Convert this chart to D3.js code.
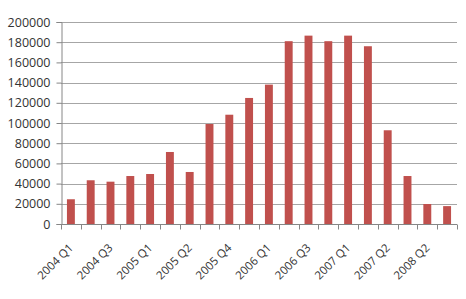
<!DOCTYPE html>
<html>
<head>
<meta charset="utf-8">
<script src="https://cdn.jsdelivr.net/npm/d3@7"></script>
<style>
  body { margin: 0; background: #fff; }
  svg text { font-family: "Open Sans", sans-serif; fill: #333; }
</style>
</head>
<body>
<svg id="chart" width="466" height="299"></svg>
<script>
// quarters, only every other one gets a label on the axis
var categories = ['2004 Q1', '2004 Q2', '2004 Q3', '2004 Q4', '2005 Q1', '2005 Q1b',
  '2005 Q2', '2005 Q3', '2005 Q4', '2005 Q4b', '2006 Q1', '2006 Q2', '2006 Q3', '2006 Q4',
  '2007 Q1', '2007 Q1b', '2007 Q2', '2007 Q3', '2008 Q2', '2008 Q3'];
var values = [24500, 43300, 41900, 47500, 49500, 71300, 51500, 99000, 108200, 124800,
  138000, 181000, 186500, 181000, 186500, 176000, 92800, 47500, 19800, 17700];
var tickLabels = ['2004 Q1', '2004 Q3', '2005 Q1', '2005 Q2', '2005 Q4',
  '2006 Q1', '2006 Q3', '2007 Q1', '2007 Q2', '2008 Q2'];
var yTicks = [0, 20000, 40000, 60000, 80000, 100000, 120000, 140000, 160000, 180000, 200000];

var margin = {top: 22, right: 9, bottom: 75, left: 61};
var width = 466 - margin.left - margin.right;
var height = 299 - margin.top - margin.bottom;

var svg = d3.select('#chart');
var g = svg.append('g').attr('transform', 'translate(' + margin.left + ',' + margin.top + ')');

var x = d3.scaleBand().domain(d3.range(categories.length)).range([0, width]).paddingInner(0.6).paddingOuter(0.3);
var y = d3.scaleLinear().domain([0, 200000]).range([height, 0]);

// gridlines
g.selectAll('.grid').data(yTicks.slice(1)).enter().append('line')
  .attr('x1', 0).attr('x2', width)
  .attr('y1', function (d) { return Math.round(y(d)) + 0.5; })
  .attr('y2', function (d) { return Math.round(y(d)) + 0.5; })
  .attr('stroke', '#a6a6a6').attr('stroke-width', 1);

// bars
g.selectAll('rect').data(values).enter().append('rect')
  .attr('x', function (d, i) { return x(i); })
  .attr('width', x.bandwidth())
  .attr('y', function (d) { return y(d); })
  .attr('height', function (d) { return height - y(d); })
  .attr('fill', '#c0504d');

// y axis
var yAxis = g.append('g').attr('transform', 'translate(0.5,0)')
  .call(d3.axisLeft(y).tickValues(yTicks).tickFormat(d3.format('d')).tickSize(5).tickPadding(6));
yAxis.select('.domain').attr('stroke', '#868686');
yAxis.selectAll('.tick line').attr('stroke', '#868686');
yAxis.selectAll('text').style('font-size', '12.5px').attr('fill', '#333');

// x axis: ticks on category boundaries
var boundaries = d3.range(categories.length + 1).map(function (i) { return i * width / categories.length; });
var xAxis = g.append('g').attr('transform', 'translate(0,' + (Math.round(height) + 0.5) + ')');
xAxis.append('line').attr('x1', 0).attr('x2', width).attr('stroke', '#868686');
xAxis.selectAll('.bt').data(boundaries).enter().append('line')
  .attr('x1', function (d) { return Math.round(d) + 0.5; })
  .attr('x2', function (d) { return Math.round(d) + 0.5; })
  .attr('y1', 0).attr('y2', 5).attr('stroke', '#868686');

xAxis.selectAll('.lbl').data(tickLabels).enter().append('text')
  .attr('transform', function (d, i) {
    var cx = x(i * 2) + x.bandwidth() / 2 + 3;
    return 'translate(' + cx + ',24) rotate(-45)';
  })
  .attr('text-anchor', 'end')
  .style('font-size', '11.5px')
  .text(function (d) { return d; });
</script>
</body>
</html>
